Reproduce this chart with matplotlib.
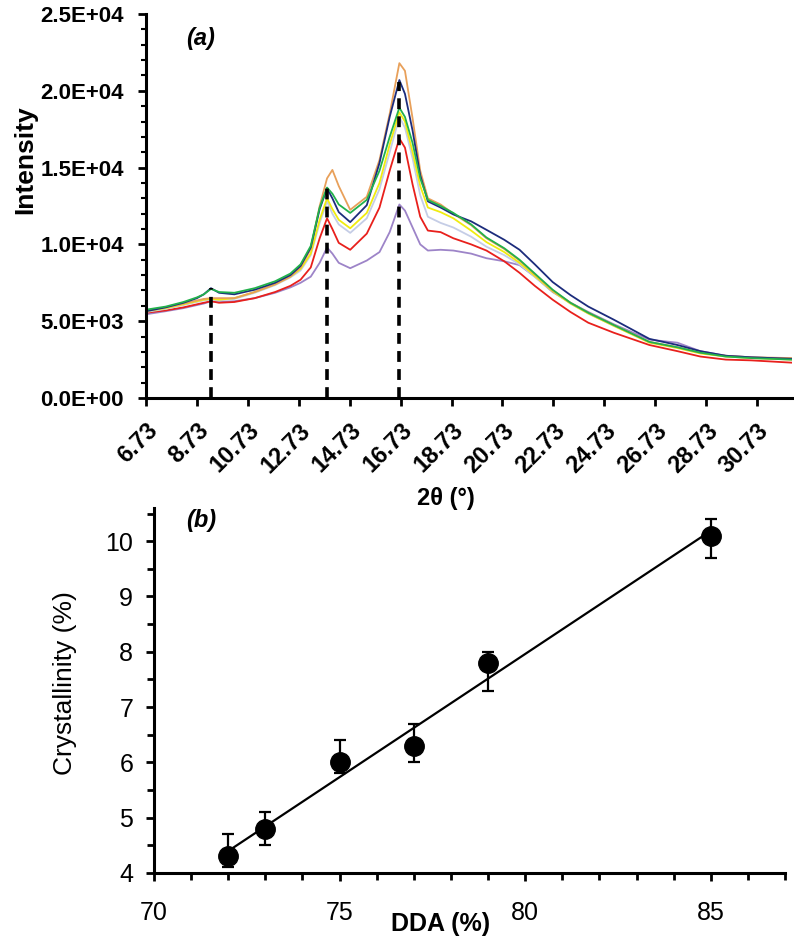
import matplotlib
matplotlib.use('Agg')
import matplotlib.pyplot as plt
from matplotlib.ticker import MultipleLocator, FixedLocator, FuncFormatter
import numpy as np

plt.rcParams['font.family'] = ['Liberation Sans', 'DejaVu Sans']

# ---- panel (a): XRD patterns ----
two_theta = [6.73, 7.5, 8.2, 8.73, 9.0, 9.28, 9.6, 10.2, 11.0, 11.8, 12.4, 12.8, 13.2, 13.55,
             13.84, 14.05, 14.3, 14.75, 15.4, 15.9, 16.3, 16.68, 16.9, 17.2, 17.5, 17.8, 18.3,
             18.8, 19.5, 20.1, 20.8, 21.4, 22.0, 22.7, 23.4, 24.1, 25.1, 26.5, 27.6, 28.5,
             29.5, 30.5, 32.1]

purple = [5450, 5650, 5850, 6050, 6150, 6300, 6250, 6300, 6500, 6850, 7200, 7500, 7900, 8800,
          9800, 9400, 8800, 8450, 8950, 9500, 10800, 12600, 12200, 11100, 10000, 9600, 9650,
          9600, 9400, 9100, 8900, 8650, 7900, 6900, 6200, 5600, 4800, 3800, 3600, 3050,
          2750, 2650, 2550]
red = [5550, 5700, 5900, 6100, 6200, 6300, 6200, 6250, 6500, 6900, 7300, 7700, 8500, 10400,
       11700, 11000, 10100, 9650, 10700, 12400, 14800, 16900, 16300, 13900, 11800, 10900, 10800,
       10400, 10000, 9600, 8900, 8150, 7300, 6400, 5600, 4900, 4250, 3450, 3050, 2700,
       2500, 2450, 2300]
light_blue = [5600, 5800, 6050, 6250, 6350, 6400, 6350, 6450, 6850, 7350, 7850, 8300, 9300, 11400,
              12800, 12000, 11300, 10750, 11700, 13600, 16000, 18300, 17600, 15600, 13200, 11800, 11400,
              11100, 10500, 9850, 9300, 8700, 7900, 6950, 6150, 5500, 4700, 3650, 3300, 2950,
              2700, 2600, 2500]
yellow = [5650, 5850, 6100, 6300, 6400, 6450, 6400, 6500, 6900, 7400, 7900, 8400, 9400, 11600,
          13000, 12300, 11600, 11050, 12050, 14000, 16500, 18600, 18000, 16000, 13800, 12400, 12100,
          11700, 10900, 10150, 9500, 8800, 7950, 6950, 6150, 5500, 4700, 3600, 3250, 2900,
          2700, 2600, 2500]
orange = [5700, 5900, 6150, 6350, 6450, 6500, 6500, 6500, 6900, 7400, 7900, 8500, 9700, 12500,
          14300, 14850, 13800, 12250, 13100, 15500, 18500, 21800, 21300, 18200, 14800, 13000, 12600,
          12000, 11250, 10400, 9700, 8950, 8050, 7000, 6200, 5550, 4750, 3650, 3300, 2950,
          2750, 2650, 2600]
navy = [5650, 5900, 6200, 6500, 6750, 7150, 6850, 6750, 7050, 7500, 8000, 8600, 9800, 12300,
        13650, 13000, 12100, 11450, 12550, 15300, 18300, 20700, 19800, 17400, 14500, 12800, 12400,
        11950, 11500, 10950, 10300, 9650, 8700, 7550, 6700, 5950, 5100, 3850, 3450, 3050,
        2750, 2650, 2550]
green = [5750, 5950, 6250, 6550, 6750, 7100, 6900, 6850, 7150, 7600, 8100, 8700, 9900, 12400,
         13700, 13300, 12600, 12050, 12900, 14800, 17000, 18900, 18300, 16600, 14300, 12900, 12500,
         12050, 11300, 10450, 9750, 9000, 8100, 7050, 6200, 5550, 4750, 3650, 3300, 2950,
         2700, 2600, 2500]

series = [purple, red, light_blue, yellow, orange, navy, green]
series_colors = ['#9d84c8', '#e8201c', '#c5cde6', '#f0ec10', '#e8a05a', '#1c2c7c', '#22b14c']

peak_x = [9.28, 13.84, 16.68]
peak_y = [7150, 13700, 20600]

xtick_vals = [6.73, 8.73, 10.73, 12.73, 14.73, 16.73, 18.73, 20.73, 22.73, 24.73, 26.73, 28.73, 30.73]

# ---- panel (b): crystallinity vs DDA ----
dda = [72, 73, 75, 77, 79, 85]
cryst = [4.3, 4.8, 6.0, 6.3, 7.8, 10.1]
err_low = [0.2, 0.3, 0.2, 0.3, 0.5, 0.4]
err_high = [0.4, 0.3, 0.4, 0.4, 0.2, 0.3]

W, H = 794, 942
fig = plt.figure(figsize=(W / 100, H / 100), dpi=100)


def px_axes(left, top, right, bottom):
    return fig.add_axes([left / W, 1 - bottom / H, (right - left) / W, (bottom - top) / H])


ax1 = px_axes(146, 14, 792, 398)
for ys, c in zip(series, series_colors):
    ax1.plot(two_theta, ys, color=c, lw=1.3)
ax1.vlines(peak_x, 0, peak_y, colors='black', lw=2.6, linestyles=(0, (3, 2)))
ax1.set_xlim(6.73, 32.1)
ax1.set_ylim(0, 25000)
ax1.xaxis.set_major_locator(FixedLocator(xtick_vals))
ax1.set_xticklabels([f'{v:.2f}' for v in xtick_vals], rotation=45, ha='right',
                    rotation_mode='anchor', fontweight='bold', fontsize=17)
ax1.yaxis.set_major_locator(MultipleLocator(5000))
ax1.yaxis.set_minor_locator(MultipleLocator(1000))
ax1.yaxis.set_major_formatter(FuncFormatter(lambda v, p: f'{v:.1E}'))
for lab in ax1.get_yticklabels():
    lab.set_fontweight('bold')
ax1.tick_params(axis='y', which='major', labelsize=16, length=6, width=2, pad=10)
ax1.tick_params(axis='y', which='minor', length=3.5, width=1.5)
ax1.tick_params(axis='x', which='major', length=6, width=2, pad=9)
for s in ['top', 'right']:
    ax1.spines[s].set_visible(False)
for s in ['left', 'bottom']:
    ax1.spines[s].set_linewidth(2.2)
ax1.text(0.085, 0.935, '(a)', transform=ax1.transAxes, fontsize=17,
         fontweight='bold', fontstyle='italic', ha='center', va='center')
fig.text(25 / W, 1 - 160 / H, 'Intensity', rotation=90, fontsize=19, fontweight='bold',
         ha='center', va='center')
fig.text(446 / W, 1 - 499 / H, '2θ (°)', fontsize=17, fontweight='bold',
         ha='center', va='center')

ax2 = px_axes(154, 508, 785, 873)
ax2.errorbar(dda, cryst, yerr=[err_low, err_high], fmt='o', color='black', ms=14,
             ecolor='black', elinewidth=1.6, capsize=4, capthick=1.6, zorder=3)
slope, icpt = np.polyfit(dda, cryst, 1)
fit_x = np.array([min(dda), max(dda)])
ax2.plot(fit_x, slope * fit_x + icpt, color='black', lw=1.6, zorder=2)
ax2.set_xlim(70, 87)
ax2.set_ylim(4, 10.6)
ax2.xaxis.set_major_locator(MultipleLocator(5))
ax2.xaxis.set_minor_locator(MultipleLocator(1))
ax2.yaxis.set_major_locator(MultipleLocator(1))
ax2.yaxis.set_minor_locator(MultipleLocator(0.5))
ax2.tick_params(axis='both', which='major', labelsize=18, length=6, width=2)
ax2.tick_params(axis='both', which='minor', length=5, width=2)
ax2.tick_params(axis='y', pad=9)
ax2.tick_params(axis='x', pad=14)
for s in ['top', 'right']:
    ax2.spines[s].set_visible(False)
for s in ['left', 'bottom']:
    ax2.spines[s].set_linewidth(2.2)
ax2.text(0.075, 0.965, '(b)', transform=ax2.transAxes, fontsize=17,
         fontweight='bold', fontstyle='italic', ha='center', va='center')
fig.text(65 / W, 1 - 683 / H, 'Crystallinity (%)', rotation=90, fontsize=19,
         ha='center', va='center')
fig.text(441 / W, 1 - 924 / H, 'DDA (%)', fontsize=18, fontweight='bold',
         ha='center', va='center')

fig.savefig('out.png', dpi=100)
